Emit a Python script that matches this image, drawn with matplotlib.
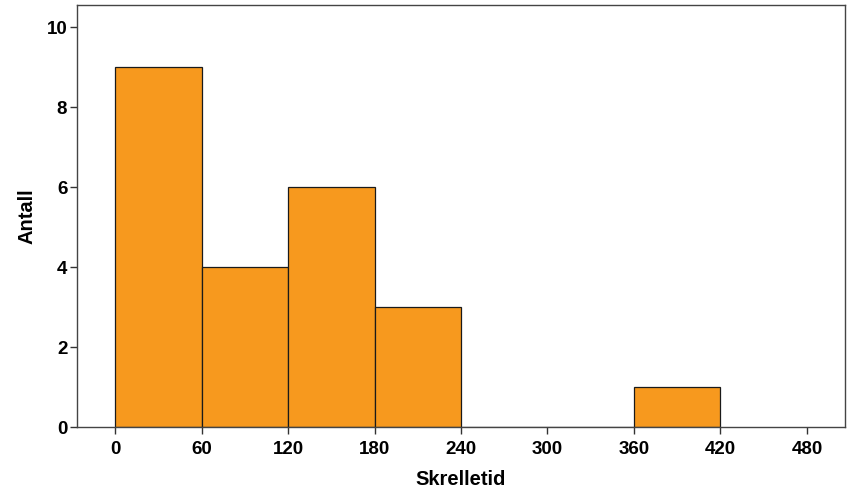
import matplotlib
matplotlib.use("Agg")
import matplotlib.pyplot as plt

bin_edges = [0, 60, 120, 180, 240, 300, 360, 420]
counts = [9, 4, 6, 3, 0, 0, 1]
x_ticks = [0, 60, 120, 180, 240, 300, 360, 420, 480]
y_ticks = [0, 2, 4, 6, 8, 10]

plt.rcParams['font.family'] = ['Liberation Sans', 'DejaVu Sans']
fig = plt.figure(figsize=(8.64, 5.01), dpi=100)
ax = fig.add_axes([77/864, 1-427/501, (845-77)/864, (427-5)/501])

lefts = bin_edges[:-1]
widths = [b - a for a, b in zip(bin_edges[:-1], bin_edges[1:])]
ax.bar(lefts, counts, width=widths, align='edge', color='#F7991E',
       edgecolor='#1a1a1a', linewidth=0.9, zorder=2)

ax.set_xlim(-26.4, 506.4)
ax.set_ylim(0, 10.55)
ax.set_xticks(x_ticks)
ax.set_yticks(y_ticks)
for s in ax.spines.values():
    s.set_color('#444444')
    s.set_linewidth(1.0)
ax.tick_params(direction='out', length=5, width=1, color='#333333',
               labelsize=13.5)
ax.tick_params(axis='x', pad=5)
ax.tick_params(axis='y', pad=2)
for lab in ax.get_xticklabels() + ax.get_yticklabels():
    lab.set_fontweight('bold')
ax.set_xlabel('Skrelletid', fontsize=14.5, fontweight='bold', labelpad=9)
ax.set_ylabel('Antall', fontsize=14.5, fontweight='bold')
ax.yaxis.set_label_coords(-(77 - 36) / 768, 0.5)

fig.savefig('out.png', dpi=100)
